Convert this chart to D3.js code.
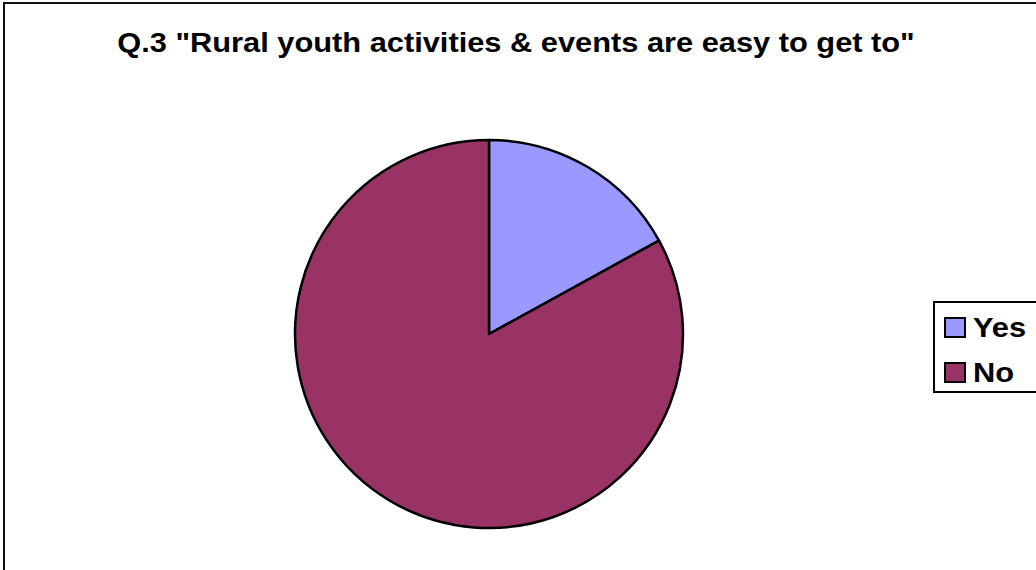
<!DOCTYPE html>
<html>
<head>
<meta charset="utf-8">
<script src="https://cdn.jsdelivr.net/npm/d3@7"></script>
<style>
  body { margin: 0; background: #fff; }
  svg { display: block; font-family: "Liberation Sans", Arial, sans-serif; }
</style>
</head>
<body>
<svg id="chart" width="1036" height="570"></svg>
<script>
const title = 'Q.3 "Rural youth activities & events are easy to get to"';
const categories = ['Yes', 'No'];
const values = [17, 83];
const colors = ['#9999FF', '#993366'];

// the original export is a bit stretched horizontally
const stretch = 1.1;

const svg = d3.select('svg#chart');

// outer chart frame (runs off the right and bottom edges)
svg.append('rect')
  .attr('x', 4).attr('y', 3)
  .attr('width', 1100).attr('height', 600)
  .attr('fill', 'none')
  .attr('stroke', '#111')
  .attr('stroke-width', 2);

svg.append('text')
  .attr('transform', `translate(516,52) scale(${stretch},1)`)
  .attr('text-anchor', 'middle')
  .style('font-size', '28px')
  .style('font-weight', 'bold')
  .text(title);

const data = categories.map((c, i) => ({ name: c, value: values[i], color: colors[i] }));
const pie = d3.pie().sort(null).value(d => d.value);
const arc = d3.arc().innerRadius(0).outerRadius(194);

const g = svg.append('g').attr('transform', 'translate(489,334)');
g.selectAll('path').data(pie(data))
  .enter().append('path')
    .attr('d', arc)
    .attr('fill', d => d.data.color)
    .attr('stroke', '#000')
    .attr('stroke-width', 2.5)
    .attr('stroke-linejoin', 'round');

// legend
const legend = svg.append('g');
legend.append('rect')
  .attr('x', 934).attr('y', 302)
  .attr('width', 200).attr('height', 90)
  .attr('fill', '#fff')
  .attr('stroke', '#000')
  .attr('stroke-width', 2);

const item = legend.selectAll('g.item').data(data)
  .enter().append('g')
    .attr('class', 'item')
    .attr('transform', (d, i) => `translate(945,${318 + i * 45})`);

item.append('rect')
  .attr('width', 20).attr('height', 19)
  .attr('fill', d => d.color)
  .attr('stroke', '#000')
  .attr('stroke-width', 2);

item.append('text')
  .attr('transform', `translate(28,19) scale(${stretch},1)`)
  .style('font-size', '28px')
  .style('font-weight', 'bold')
  .text(d => d.name);
</script>
</body>
</html>
